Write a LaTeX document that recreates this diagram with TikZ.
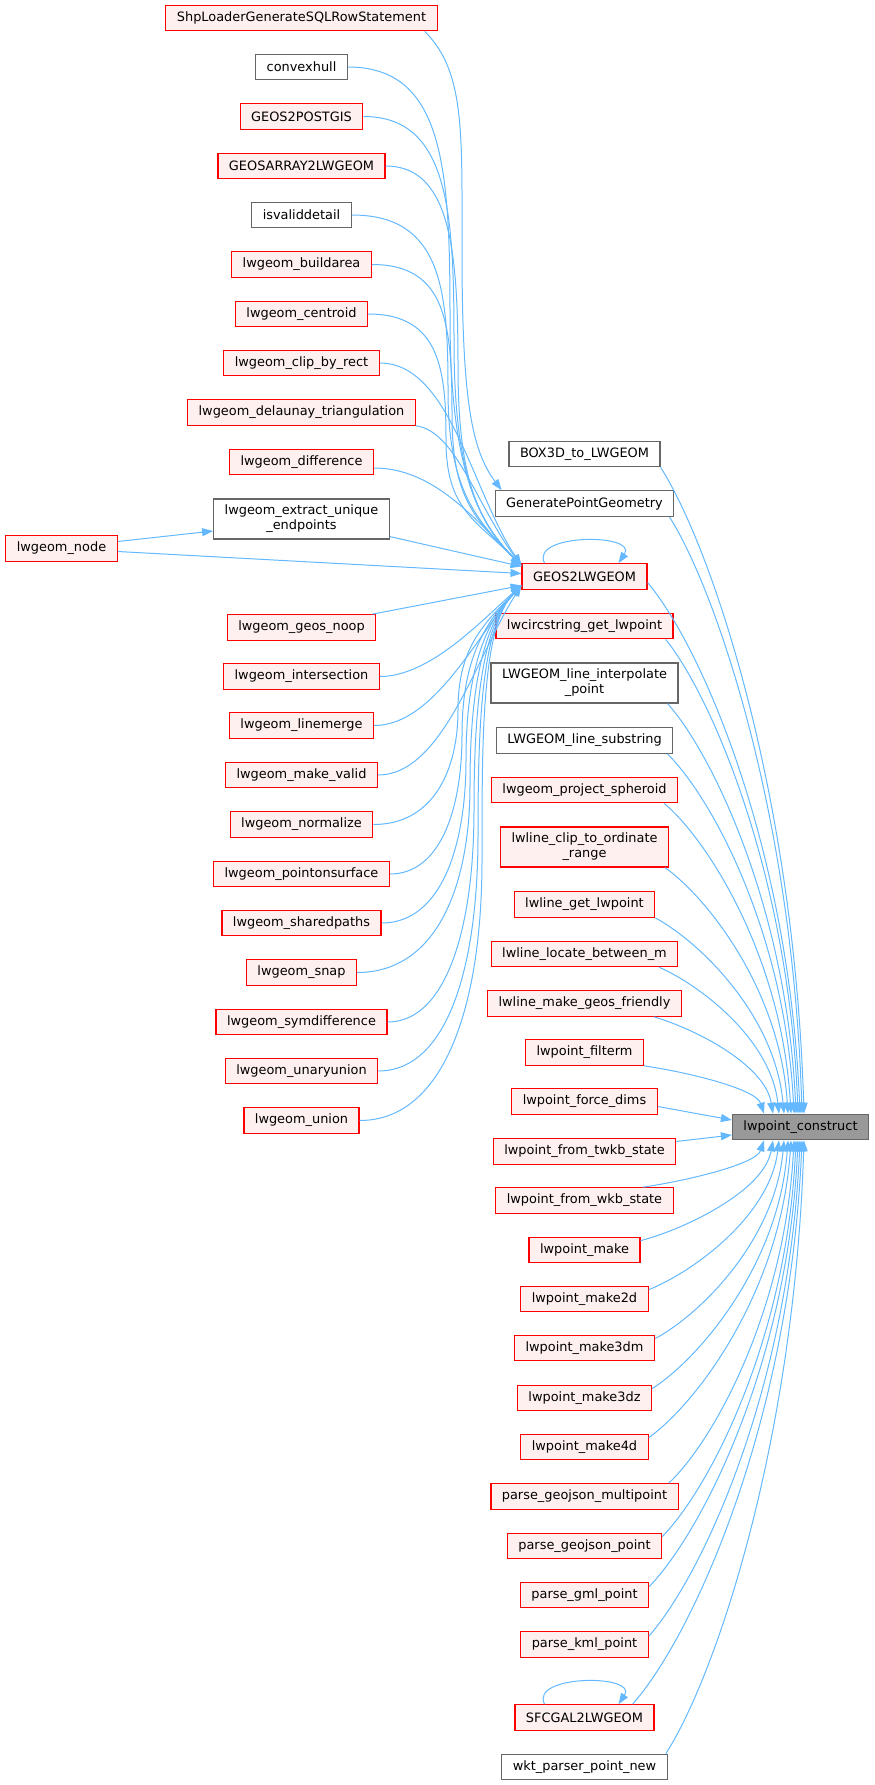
\documentclass[tikz,border=0pt]{standalone}
\usepackage{fontspec}
\setmainfont{DejaVu Sans}
\usepackage{tikz}
\usetikzlibrary{arrows.meta}
\definecolor{callblue}{HTML}{63B8FF}
\definecolor{boxred}{HTML}{FF0000}
\definecolor{boxpink}{HTML}{FFF0F0}
\definecolor{boxgray}{HTML}{666666}
\definecolor{rootgray}{HTML}{999999}
\begin{document}
\begin{tikzpicture}[x=1pt, y=1pt, every node/.style={font=\fontsize{12.9}{15}\selectfont, inner xsep=11pt, inner ysep=2pt, minimum height=25.5pt, align=center},
	redbox/.style={draw=boxred, fill=boxpink, line width=1.2pt},
	graybox/.style={draw=boxgray, fill=white, line width=1.2pt},
	rootbox/.style={draw=boxgray, fill=rootgray, line width=1.2pt},
	callline/.style={draw=callblue, line width=1pt, -{Triangle[length=11pt,width=8pt]}}]
				\useasboundingbox (0,0) rectangle (875,-1785);
				\node [redbox] (shp) at (301.5,-18) {ShpLoaderGenerateSQLRowStatement};
				\node [graybox] (convexhull) at (301.5,-67) {convexhull};
				\node [redbox] (geospostgis) at (301.5,-116.5) {GEOS2POSTGIS};
				\node [redbox] (geosarray) at (301.5,-166) {GEOSARRAY2LWGEOM};
				\node [graybox] (isvalid) at (301.5,-215) {isvaliddetail};
				\node [redbox] (buildarea) at (301.5,-264.5) {lwgeom\_buildarea};
				\node [redbox] (centroid) at (301.5,-314) {lwgeom\_centroid};
				\node [redbox] (cliprect) at (301.5,-363) {lwgeom\_clip\_by\_rect};
				\node [redbox] (delaunay) at (301.5,-412.5) {lwgeom\_delaunay\_triangulation};
				\node [redbox] (difference) at (301.5,-462) {lwgeom\_difference};
				\node [graybox, minimum height=40pt] (extract) at (301.5,-519) {lwgeom\_extract\_unique\\\_endpoints};
				\node [redbox] (lwnode) at (61.5,-548.5) {lwgeom\_node};
				\node [redbox] (noop) at (301.5,-627.5) {lwgeom\_geos\_noop};
				\node [redbox] (intersection) at (301.5,-676.5) {lwgeom\_intersection};
				\node [redbox] (linemerge) at (301.5,-725.5) {lwgeom\_linemerge};
				\node [redbox] (makevalid) at (301.5,-775) {lwgeom\_make\_valid};
				\node [redbox] (normalize) at (301.5,-824.5) {lwgeom\_normalize};
				\node [redbox] (pointonsurface) at (301.5,-874) {lwgeom\_pointonsurface};
				\node [redbox] (sharedpaths) at (301.5,-923) {lwgeom\_sharedpaths};
				\node [redbox] (snap) at (301.5,-972.5) {lwgeom\_snap};
				\node [redbox] (symdiff) at (301.5,-1022) {lwgeom\_symdifference};
				\node [redbox] (unary) at (301.5,-1071) {lwgeom\_unaryunion};
				\node [redbox] (union) at (301.5,-1120.5) {lwgeom\_union};
				\node [graybox] (box3d) at (584.5,-454) {BOX3D\_to\_LWGEOM};
				\node [graybox] (genpoint) at (584.5,-503.5) {GeneratePointGeometry};
				\node [redbox] (geos) at (584.5,-576.5) {GEOS2LWGEOM};
				\node [redbox] (circ) at (584.5,-626) {lwcircstring\_get\_lwpoint};
				\node [graybox, minimum height=40pt] (interp) at (584.5,-683) {LWGEOM\_line\_interpolate\\\_point};
				\node [graybox] (substring) at (584.5,-740.5) {LWGEOM\_line\_substring};
				\node [redbox] (spheroid) at (584.5,-790) {lwgeom\_project\_spheroid};
				\node [redbox, minimum height=40pt] (clipord) at (584.5,-847) {lwline\_clip\_to\_ordinate\\\_range};
				\node [redbox] (lwlineget) at (584.5,-904.5) {lwline\_get\_lwpoint};
				\node [redbox] (locate) at (584.5,-954) {lwline\_locate\_between\_m};
				\node [redbox] (friendly) at (584.5,-1003.5) {lwline\_make\_geos\_friendly};
				\node [redbox] (filterm) at (584.5,-1052.5) {lwpoint\_filterm};
				\node [redbox] (forcedims) at (584.5,-1101.5) {lwpoint\_force\_dims};
				\node [redbox] (twkb) at (584.5,-1151.5) {lwpoint\_from\_twkb\_state};
				\node [redbox] (wkb) at (584.5,-1200.5) {lwpoint\_from\_wkb\_state};
				\node [redbox] (make) at (584.5,-1250) {lwpoint\_make};
				\node [redbox] (make2d) at (584.5,-1299) {lwpoint\_make2d};
				\node [redbox] (make3dm) at (584.5,-1348) {lwpoint\_make3dm};
				\node [redbox] (make3dz) at (584.5,-1398) {lwpoint\_make3dz};
				\node [redbox] (make4d) at (584.5,-1447) {lwpoint\_make4d};
				\node [redbox] (gjmp) at (584.5,-1496.5) {parse\_geojson\_multipoint};
				\node [redbox] (gjp) at (584.5,-1546) {parse\_geojson\_point};
				\node [redbox] (gml) at (584.5,-1595) {parse\_gml\_point};
				\node [redbox] (kml) at (584.5,-1644.5) {parse\_kml\_point};
				\node [redbox] (sfcgal) at (584.5,-1717.5) {SFCGAL2LWGEOM};
				\node [graybox] (wkt) at (584.5,-1767) {wkt\_parser\_point\_new};
				\node [rootbox] (construct) at (800.5,-1127) {lwpoint\_construct};
				\draw [callline] ([xshift=-13pt]shp.south east) .. controls +(40,-40) and +(0,120) .. (462,-250) .. controls +(0,-150) and +(-30,40) .. ([xshift=7pt]genpoint.north west);
				\draw [callline] (convexhull.east) .. controls +(95,0) and +(0,150) .. (450,-316) .. controls +(0,-150) and +(-45,45) .. ([yshift=11pt]geos.west);
				\draw [callline] (geospostgis.east) .. controls +(85,0) and +(0,130) .. (454,-341) .. controls +(0,-130) and +(-45,45) .. ([yshift=11pt]geos.west);
				\draw [callline] (geosarray.east) .. controls +(65,0) and +(0,115) .. (458,-366) .. controls +(0,-110) and +(-45,45) .. ([yshift=11pt]geos.west);
				\draw [callline] (isvalid.east) .. controls +(90,0) and +(0,100) .. (448,-390) .. controls +(0,-100) and +(-45,45) .. ([yshift=11pt]geos.west);
				\draw [callline] (buildarea.east) .. controls +(75,0) and +(0,90) .. (452,-415) .. controls +(0,-85) and +(-45,45) .. ([yshift=11pt]geos.west);
				\draw [callline] (centroid.east) .. controls +(72,0) and +(0,70) .. (446,-440) .. controls +(0,-70) and +(-45,45) .. ([yshift=11pt]geos.west);
				\draw [callline] (cliprect.east) .. controls +(70,0) and +(-50,75) .. ([yshift=11pt]geos.west);
				\draw [callline] (delaunay.south east) .. controls +(40,-5) and +(-45,60) .. ([yshift=11pt]geos.west);
				\draw [callline] ([yshift=-6pt]difference.east) .. controls +(60,0) and +(-45,45) .. ([yshift=11pt]geos.west);
				\draw [callline] ([yshift=3pt]extract.south east) -- ([yshift=10pt]geos.west);
				\draw [callline] ([yshift=7pt]lwnode.east) -- ([yshift=-12pt]extract.west);
				\draw [callline] ([yshift=-3pt]lwnode.east) -- ([yshift=3pt]geos.west);
				\draw [callline] ([xshift=-4pt]noop.north east) -- ([yshift=-9pt]geos.west);
				\draw [callline] (intersection.east) .. controls +(50,0) and +(-40,-35) .. ([yshift=-9pt]geos.west);
				\draw [callline] (linemerge.east) .. controls +(60,0) and +(-45,-50) .. ([yshift=-9pt]geos.west);
				\draw [callline] (makevalid.east) .. controls +(65,0) and +(-45,-70) .. ([yshift=-9pt]geos.west);
				\draw [callline] (normalize.east) .. controls +(60,0) and +(0,-60) .. (458,-710) .. controls +(0,60) and +(-40,-40) .. ([yshift=-9pt]geos.west);
				\draw [callline] (pointonsurface.east) .. controls +(50,0) and +(0,-75) .. (462,-735) .. controls +(0,70) and +(-40,-40) .. ([yshift=-9pt]geos.west);
				\draw [callline] (sharedpaths.east) .. controls +(60,0) and +(0,-85) .. (466,-760) .. controls +(0,80) and +(-40,-40) .. ([yshift=-9pt]geos.west);
				\draw [callline] (snap.east) .. controls +(80,0) and +(0,-100) .. (470,-785) .. controls +(0,90) and +(-40,-40) .. ([yshift=-9pt]geos.west);
				\draw [callline] (symdiff.east) .. controls +(60,0) and +(0,-115) .. (474,-810) .. controls +(0,100) and +(-40,-40) .. ([yshift=-9pt]geos.west);
				\draw [callline] (unary.east) .. controls +(70,0) and +(0,-130) .. (478,-835) .. controls +(0,110) and +(-40,-40) .. ([yshift=-9pt]geos.west);
				\draw [callline] (union.east) .. controls +(85,0) and +(0,-145) .. (482,-860) .. controls +(0,120) and +(-40,-40) .. ([yshift=-9pt]geos.west);
				\draw [callline] ([xshift=-40pt]geos.north) .. controls +(-15,30) and +(20,30) .. ([xshift=34pt]geos.north);
				\draw [callline] ([xshift=-40pt]sfcgal.north) .. controls +(-15,30) and +(20,30) .. ([xshift=34pt]sfcgal.north);
				\draw [callline] (box3d.south east) .. controls +(50,-78) and +(-10,324) .. ([xshift=3.5pt]construct.north);
				\draw [callline] ([xshift=-5pt]genpoint.south east) .. controls +(46,-72) and +(-9,299) .. ([xshift=1.5pt]construct.north);
				\draw [callline] ([yshift=-6pt]geos.east) .. controls +(54,-64) and +(-11,266) .. ([xshift=-0.5pt]construct.north);
				\draw [callline] ([xshift=-8pt]circ.south east) .. controls +(46,-57) and +(-9,238) .. ([xshift=-2.5pt]construct.north);
				\draw [callline] ([xshift=-11pt]interp.south east) .. controls +(44,-49) and +(-9,206) .. ([xshift=-4.5pt]construct.north);
				\draw [callline] ([xshift=-6pt]substring.south east) .. controls +(44,-43) and +(-9,181) .. ([xshift=-6.5pt]construct.north);
				\draw [callline] ([xshift=-14pt]spheroid.south east) .. controls +(44,-37) and +(-9,156) .. ([xshift=-9.5pt]construct.north);
				\draw [callline] ([xshift=-4pt]clipord.south east) .. controls +(42,-30) and +(-8,124) .. ([xshift=-12.5pt]construct.north);
				\draw [callline] (lwlineget.south east) .. controls +(44,-24) and +(-9,99) .. ([xshift=-16.5pt]construct.north);
				\draw [callline] ([xshift=-19pt]locate.south east) .. controls +(41,-18) and +(-8,74) .. ([xshift=-21.5pt]construct.north);
				\draw [callline] ([xshift=-28pt]friendly.south east) .. controls +(41,-12) and +(-8,49) .. ([xshift=-27.5pt]construct.north);
				\draw [callline] (filterm.south east) .. controls +(42,-6) and +(-8,25) .. ([xshift=-36.5pt]construct.north);
				\draw [callline] ([yshift=-5pt]forcedims.east) -- ([yshift=7pt]construct.west);
				\draw [callline] ([yshift=10pt]twkb.east) -- ([yshift=-8pt]construct.west);
				\draw [callline] ([xshift=-31pt]wkb.north east) .. controls +(42,6) and +(-8,-24) .. ([xshift=-36.5pt]construct.south);
				\draw [callline] ([yshift=-4pt]make.north east) .. controls +(46,12) and +(-9,-50) .. ([xshift=-27.5pt]construct.south);
				\draw [callline] ([yshift=-4pt]make2d.north east) .. controls +(45,18) and +(-9,-75) .. ([xshift=-21.5pt]construct.south);
				\draw [callline] ([yshift=-4pt]make3dm.north east) .. controls +(45,24) and +(-9,-100) .. ([xshift=-16.5pt]construct.south);
				\draw [callline] ([yshift=-4pt]make3dz.north east) .. controls +(47,30) and +(-9,-124) .. ([xshift=-12.5pt]construct.south);
				\draw [callline] ([yshift=-4pt]make4d.north east) .. controls +(50,36) and +(-10,-149) .. ([xshift=-9.5pt]construct.south);
				\draw [callline] ([xshift=-10pt]gjmp.north east) .. controls +(44,41) and +(-9,-172) .. ([xshift=-6.5pt]construct.south);
				\draw [callline] ([yshift=-4pt]gjp.north east) .. controls +(47,48) and +(-9,-199) .. ([xshift=-4.5pt]construct.south);
				\draw [callline] ([yshift=-5pt]gml.north east) .. controls +(52,54) and +(-10,-224) .. ([xshift=-2.5pt]construct.south);
				\draw [callline] ([yshift=-5pt]kml.north east) .. controls +(53,60) and +(-11,-249) .. ([xshift=-0.5pt]construct.south);
				\draw [callline] ([xshift=-22pt]sfcgal.north east) .. controls +(60,68) and +(-12,-283) .. ([xshift=1.5pt]construct.south);
				\draw [callline] ([xshift=-2pt]wkt.north east) .. controls +(48,74) and +(-10,-307) .. ([xshift=3.5pt]construct.south);
				\end{tikzpicture}
\end{document}
